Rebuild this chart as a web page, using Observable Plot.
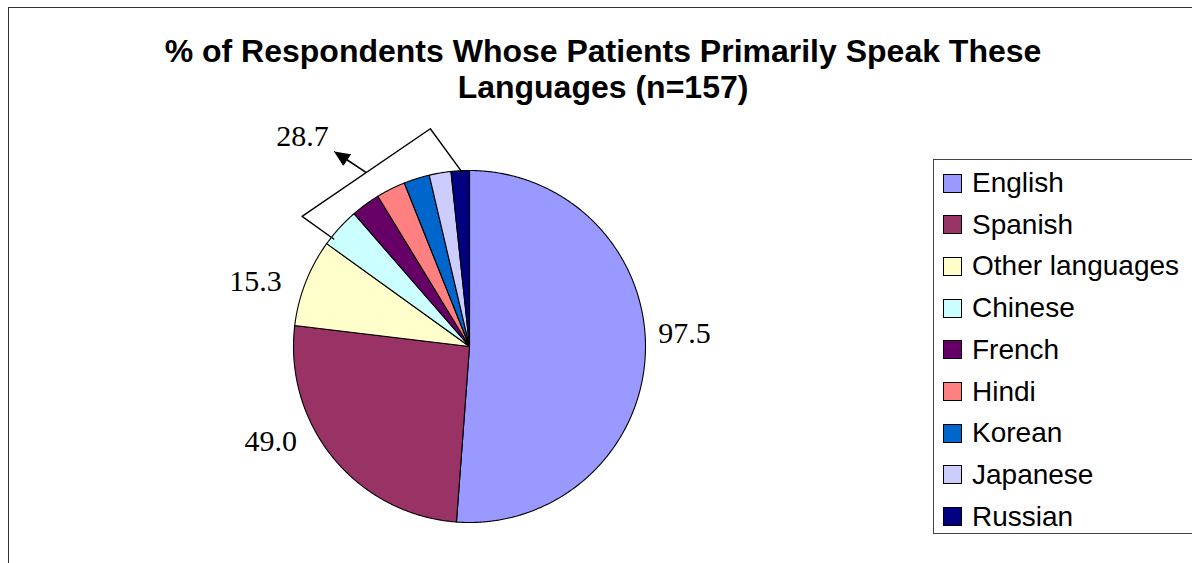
<!DOCTYPE html>
<html>
<head>
<meta charset="utf-8">
<script src="https://cdn.jsdelivr.net/npm/d3@7"></script>
<script src="https://cdn.jsdelivr.net/npm/@observablehq/plot@0.6"></script>
<style>
  html, body { margin: 0; padding: 0; background: #fff; }
  #wrap { position: relative; width: 1192px; height: 563px; overflow: hidden; background: #fff; }
  #frame { position: absolute; left: 8px; top: 7px; width: 1400px; height: 800px; border: 1px solid #333; box-sizing: border-box; }
  #chart { position: absolute; left: 0; top: 0; }
  #title { position: absolute; left: 0; top: 33px; width: 1206px; text-align: center;
           font: bold 32px "Liberation Sans", Arial, sans-serif; line-height: 36px; color: #000; }
  #legend { position: absolute; left: 933px; top: 159px; width: 400px; height: 375px;
            border: 1px solid #444; box-sizing: border-box; background: #fff; }
  .row { position: absolute; left: 0; height: 30px; display: flex; align-items: center; }
  .sw { position: absolute; left: 9px; width: 19px; height: 19px; border: 1px solid #000; box-sizing: border-box; }
  .lb { position: absolute; left: 38px; white-space: nowrap; font: 28px "Liberation Sans", Arial, sans-serif; color: #000; }
</style>
</head>
<body>
<div id="wrap">
  <div id="frame"></div>
  <div id="chart"></div>
  <div id="title">% of Respondents Whose Patients Primarily Speak These<br>Languages (n=157)</div>
  <div id="legend"></div>
</div>
<script>
// ---- data ----
const languages = ["English", "Spanish", "Other languages", "Chinese", "French", "Hindi", "Korean", "Japanese", "Russian"];
const percents  = [97.5, 49.0, 15.3, 7.0, 5.1, 5.1, 4.5, 3.8, 3.2];
const colors    = ["#9999FF", "#993366", "#FFFFCC", "#CCFFFF", "#660066", "#FF8080", "#0066CC", "#CCCCFF", "#000080"];
const groupedLanguages = ["Chinese", "French", "Hindi", "Korean", "Japanese", "Russian"];

// ---- layout ----
const cx = 469, cy = 346, R = 176;
const deg = Math.PI / 180;

const data = languages.map((name, i) => ({name, pct: percents[i], color: colors[i]}));
const arcs = d3.pie().sort(null).value(d => d.pct)(data);

// slice polygons (clockwise from 12 o'clock)
const slicePts = [];
for (const a of arcs) {
  const n = Math.max(2, Math.ceil((a.endAngle - a.startAngle) / (0.4 * deg)));
  slicePts.push({name: a.data.name, color: a.data.color, x: 0, y: 0});
  for (let k = 0; k <= n; k++) {
    const t = a.startAngle + (a.endAngle - a.startAngle) * k / n;
    slicePts.push({name: a.data.name, color: a.data.color, x: Math.sin(t), y: Math.cos(t)});
  }
  slicePts.push({name: a.data.name, color: a.data.color, x: 0, y: 0});
}
const polar = (th, r) => ({x: r * Math.sin(th), y: r * Math.cos(th)});

// labels for the big slices
const labelAdjust = {"English": [-5.6, 1.224], "Spanish": [14, 1.25], "Other languages": [-4.5, 1.27]};
const labels = arcs.filter(a => labelAdjust[a.data.name]).map(a => {
  const [da, r] = labelAdjust[a.data.name];
  const p = polar((a.startAngle + a.endAngle) / 2 + da * deg, r);
  return {...p, text: a.data.pct.toFixed(1)};
});

// grouped small slices callout
const gArcs = arcs.filter(a => groupedLanguages.includes(a.data.name));
const gStart = d3.min(gArcs, a => a.startAngle), gEnd = d3.max(gArcs, a => a.endAngle);
const gSum = d3.sum(gArcs, a => a.data.pct);
const bracket = [
  polar(gEnd - 2.4 * deg, 0.99),
  polar(gEnd - 10.2 * deg, 1.257),
  polar(gStart + 2.1 * deg, 1.205),
  polar(gStart + 2.6 * deg, 0.984)
];
const tail = polar(gEnd - 30.8 * deg, 1.153);
const tip = polar(gEnd - 34.7 * deg, 1.348);
const dx = tip.x - tail.x, dy = tip.y - tail.y, L = Math.hypot(dx, dy);
const ux = dx / L, uy = dy / L, hl = 15 / R, hw = 6.5 / R;
const base = {x: tip.x - ux * hl, y: tip.y - uy * hl};
const head = [
  {x: tip.x, y: tip.y},
  {x: base.x - uy * hw, y: base.y + ux * hw},
  {x: base.x + uy * hw, y: base.y - ux * hw}
];
const groupLabel = [{...polar(gEnd - 38.5 * deg, 1.525), text: gSum.toFixed(1)}];

const chart = Plot.plot({
  width: 1192,
  height: 563,
  margin: 0,
  style: {background: "transparent", overflow: "visible"},
  x: {domain: [-1, 1], range: [cx - R, cx + R], axis: null},
  y: {domain: [-1, 1], range: [cy + R, cy - R], axis: null},
  color: {type: "identity"},
  marks: [
    Plot.line(slicePts, {x: "x", y: "y", z: "name", fill: "color", stroke: "#000", strokeWidth: 1.1, strokeLinejoin: "round"}),
    Plot.line(bracket, {x: "x", y: "y", stroke: "#000", strokeWidth: 1.4}),
    Plot.line([tail, base], {x: "x", y: "y", stroke: "#000", strokeWidth: 1.6}),
    Plot.line(head, {x: "x", y: "y", fill: "#000", stroke: "#000", strokeWidth: 1}),
    Plot.text(labels, {x: "x", y: "y", text: "text", fontSize: 30, fontFamily: "Liberation Serif, Times New Roman, serif", fill: "#000", textAnchor: "middle", lineAnchor: "middle"}),
    Plot.text(groupLabel, {x: "x", y: "y", text: "text", fontSize: 30, fontFamily: "Liberation Serif, Times New Roman, serif", fill: "#000", textAnchor: "middle", lineAnchor: "middle"})
  ]
});
document.getElementById("chart").appendChild(chart);

// legend
const legend = document.getElementById("legend");
languages.forEach((name, i) => {
  const row = document.createElement("div");
  row.className = "row";
  row.style.top = (8 + i * 41.7) + "px";
  const sw = document.createElement("div");
  sw.className = "sw";
  sw.style.background = colors[i];
  const lb = document.createElement("div");
  lb.className = "lb";
  lb.textContent = name;
  row.appendChild(sw);
  row.appendChild(lb);
  legend.appendChild(row);
});
</script>
</body>
</html>
